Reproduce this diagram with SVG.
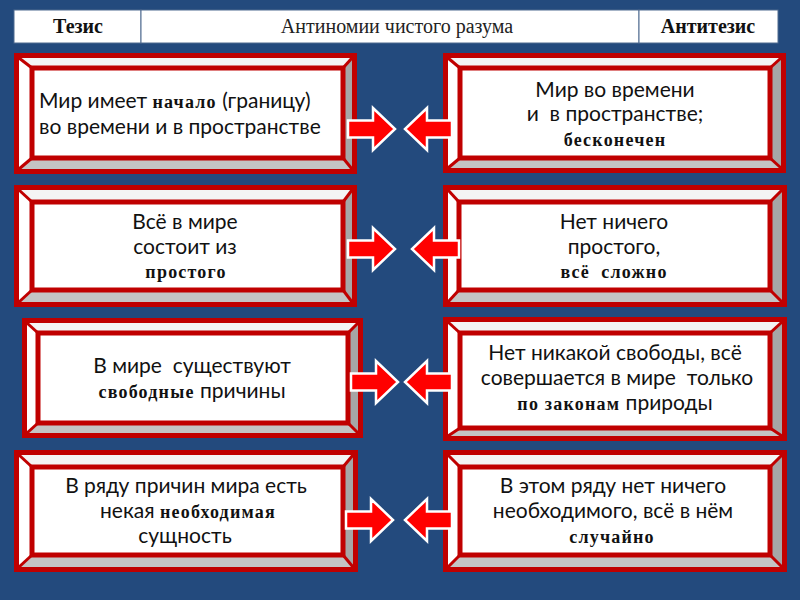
<svg xmlns="http://www.w3.org/2000/svg" width="800" height="600" viewBox="0 0 800 600">
<style>
.frame{fill:#C00000}
.bt{fill:#F4F4F4}
.bl{fill:#FFFFFF}
.br{fill:#A6A6A6}
.bb{fill:#C4C4C4}
.diag{stroke:#C00000;stroke-width:3}
.face{fill:#FFFFFF;stroke:#C00000;stroke-width:5}
.hcell{fill:#FFFFFF;stroke:#4F6A8F;stroke-width:1}
.ht{font-family:"Liberation Serif",serif;font-size:20px;fill:#222;text-anchor:middle}
.hb{font-weight:bold;fill:#111}
.t{font-family:Lato,"Open Sans",sans-serif;font-size:21px;fill:#111}
.c{text-anchor:middle}
.s{font-family:"Liberation Serif",serif;font-weight:bold;font-size:18px;letter-spacing:1.2px}
.arr{fill:#FF0000;stroke:#FFFFFF;stroke-width:2.5;stroke-linejoin:miter}
</style>
<defs>
<path id="ar" d="M0,-8.5 H25 V-21 L47,0 L25,21 V8.5 H0 Z"/>
</defs>
<rect width="800" height="600" fill="#234A7D"/>

<g id="header">
<rect class="hcell" x="14" y="10" width="127" height="33"/>
<rect class="hcell" x="141" y="10" width="498" height="33"/>
<rect class="hcell" x="639" y="10" width="139" height="33"/>
<text class="ht hb" x="78" y="33">Тезис</text>
<text class="ht" x="397" y="33">Антиномии чистого разума</text>
<text class="ht hb" x="708" y="33">Антитезис</text>
</g>

<g id="thesis1">
<rect class="frame" x="14" y="53" width="343" height="121"/>
<polygon class="bt" points="19,58 352,58 343,68 32,68"/>
<polygon class="bl" points="19,58 32,68 32,158 19,169"/>
<polygon class="br" points="352,58 352,169 343,158 343,68"/>
<polygon class="bb" points="19,169 352,169 343,158 32,158"/>
<line class="diag" x1="19" y1="58" x2="32" y2="68"/><line class="diag" x1="352" y1="58" x2="343" y2="68"/>
<line class="diag" x1="19" y1="169" x2="32" y2="158"/><line class="diag" x1="352" y1="169" x2="343" y2="158"/>
<rect class="face" x="32" y="68" width="311" height="90"/>
<text class="t" x="39" y="108">Мир имеет <tspan class="s">начало</tspan> (границу)</text>
<text class="t" x="39" y="134">во времени и в пространстве</text>
</g>

<g id="antithesis1">
<rect class="frame" x="443" y="53" width="343" height="120"/>
<polygon class="bt" points="448,58 781,58 770,68 460,68"/>
<polygon class="bl" points="448,58 460,68 460,158 448,168"/>
<polygon class="br" points="781,58 781,168 770,158 770,68"/>
<polygon class="bb" points="448,168 781,168 770,158 460,158"/>
<line class="diag" x1="448" y1="58" x2="460" y2="68"/><line class="diag" x1="781" y1="58" x2="770" y2="68"/>
<line class="diag" x1="448" y1="168" x2="460" y2="158"/><line class="diag" x1="781" y1="168" x2="770" y2="158"/>
<rect class="face" x="460" y="68" width="310" height="90"/>
<text class="t c" x="615" y="97">Мир во времени</text>
<text class="t c" x="615" y="121" xml:space="preserve">и  в пространстве;</text>
<text class="t c" x="615" y="146"><tspan class="s">бесконечен</tspan></text>
</g>

<g id="thesis2">
<rect class="frame" x="14" y="185" width="343" height="122"/>
<polygon class="bt" points="19,190 352,190 343,202 32,202"/>
<polygon class="bl" points="19,190 32,202 32,290 19,302"/>
<polygon class="br" points="352,190 352,302 343,290 343,202"/>
<polygon class="bb" points="19,302 352,302 343,290 32,290"/>
<line class="diag" x1="19" y1="190" x2="32" y2="202"/><line class="diag" x1="352" y1="190" x2="343" y2="202"/>
<line class="diag" x1="19" y1="302" x2="32" y2="290"/><line class="diag" x1="352" y1="302" x2="343" y2="290"/>
<rect class="face" x="32" y="202" width="311" height="88"/>
<text class="t c" x="185" y="229">Всё в мире</text>
<text class="t c" x="185" y="254">состоит из</text>
<text class="t c" x="186" y="278"><tspan class="s">простого</tspan></text>
</g>

<g id="antithesis2">
<rect class="frame" x="443" y="185" width="344" height="122"/>
<polygon class="bt" points="448,190 782,190 770,202 459,202"/>
<polygon class="bl" points="448,190 459,202 459,290 448,302"/>
<polygon class="br" points="782,190 782,302 770,290 770,202"/>
<polygon class="bb" points="448,302 782,302 770,290 459,290"/>
<line class="diag" x1="448" y1="190" x2="459" y2="202"/><line class="diag" x1="782" y1="190" x2="770" y2="202"/>
<line class="diag" x1="448" y1="302" x2="459" y2="290"/><line class="diag" x1="782" y1="302" x2="770" y2="290"/>
<rect class="face" x="459" y="202" width="311" height="88"/>
<text class="t c" x="614" y="229">Нет ничего</text>
<text class="t c" x="614" y="254">простого,</text>
<text class="t c" x="614" y="278" xml:space="preserve"><tspan class="s">всё  сложно</tspan></text>
</g>

<g id="thesis3">
<rect class="frame" x="22" y="318" width="341" height="120"/>
<polygon class="bt" points="27,323 358,323 348,333 38,333"/>
<polygon class="bl" points="27,323 38,333 38,423 27,433"/>
<polygon class="br" points="358,323 358,433 348,423 348,333"/>
<polygon class="bb" points="27,433 358,433 348,423 38,423"/>
<line class="diag" x1="27" y1="323" x2="38" y2="333"/><line class="diag" x1="358" y1="323" x2="348" y2="333"/>
<line class="diag" x1="27" y1="433" x2="38" y2="423"/><line class="diag" x1="358" y1="433" x2="348" y2="423"/>
<rect class="face" x="38" y="333" width="310" height="90"/>
<text class="t c" x="192" y="373" xml:space="preserve">В мире  существуют</text>
<text class="t c" x="192" y="398"><tspan class="s">свободные</tspan> причины</text>
</g>

<g id="antithesis3">
<rect class="frame" x="443" y="317" width="344" height="124"/>
<polygon class="bt" points="448,322 782,322 770,333 460,333"/>
<polygon class="bl" points="448,322 460,333 460,428 448,436"/>
<polygon class="br" points="782,322 782,436 770,428 770,333"/>
<polygon class="bb" points="448,436 782,436 770,428 460,428"/>
<line class="diag" x1="448" y1="322" x2="460" y2="333"/><line class="diag" x1="782" y1="322" x2="770" y2="333"/>
<line class="diag" x1="448" y1="436" x2="460" y2="428"/><line class="diag" x1="782" y1="436" x2="770" y2="428"/>
<rect class="face" x="460" y="333" width="310" height="95"/>
<text class="t c" x="615" y="360">Нет никакой свободы, всё</text>
<text class="t c" x="617" y="385" xml:space="preserve">совершается в мире  только</text>
<text class="t c" x="615" y="410"><tspan class="s">по законам</tspan> природы</text>
</g>

<g id="thesis4">
<rect class="frame" x="14" y="450" width="344" height="122"/>
<polygon class="bt" points="19,455 353,455 343,467 32,467"/>
<polygon class="bl" points="19,455 32,467 32,555 19,567"/>
<polygon class="br" points="353,455 353,567 343,555 343,467"/>
<polygon class="bb" points="19,567 353,567 343,555 32,555"/>
<line class="diag" x1="19" y1="455" x2="32" y2="467"/><line class="diag" x1="353" y1="455" x2="343" y2="467"/>
<line class="diag" x1="19" y1="567" x2="32" y2="555"/><line class="diag" x1="353" y1="567" x2="343" y2="555"/>
<rect class="face" x="32" y="467" width="311" height="88"/>
<text class="t c" x="186" y="493">В ряду причин мира есть</text>
<text class="t c" x="188" y="518">некая <tspan class="s">необходимая</tspan></text>
<text class="t c" x="185" y="543">сущность</text>
</g>

<g id="antithesis4">
<rect class="frame" x="443" y="450" width="344" height="122"/>
<polygon class="bt" points="448,455 782,455 770,467 460,467"/>
<polygon class="bl" points="448,455 460,467 460,555 448,567"/>
<polygon class="br" points="782,455 782,567 770,555 770,467"/>
<polygon class="bb" points="448,567 782,567 770,555 460,555"/>
<line class="diag" x1="448" y1="455" x2="460" y2="467"/><line class="diag" x1="782" y1="455" x2="770" y2="467"/>
<line class="diag" x1="448" y1="567" x2="460" y2="555"/><line class="diag" x1="782" y1="567" x2="770" y2="555"/>
<rect class="face" x="460" y="467" width="310" height="88"/>
<text class="t c" x="613" y="493">В этом ряду нет ничего</text>
<text class="t c" x="613" y="518">необходимого, всё в нём</text>
<text class="t c" x="612" y="543"><tspan class="s">случайно</tspan></text>
</g>

<g id="connectors">
<use href="#ar" class="arr" transform="translate(348,129)"/>
<use href="#ar" class="arr" transform="translate(452,129) scale(-1,1)"/>
<use href="#ar" class="arr" transform="translate(348,249)"/>
<use href="#ar" class="arr" transform="translate(459,249) scale(-1,1)"/>
<use href="#ar" class="arr" transform="translate(351,382)"/>
<use href="#ar" class="arr" transform="translate(452,382) scale(-1,1)"/>
<use href="#ar" class="arr" transform="translate(346,520)"/>
<use href="#ar" class="arr" transform="translate(452,520) scale(-1,1)"/>
</g>
</svg>
